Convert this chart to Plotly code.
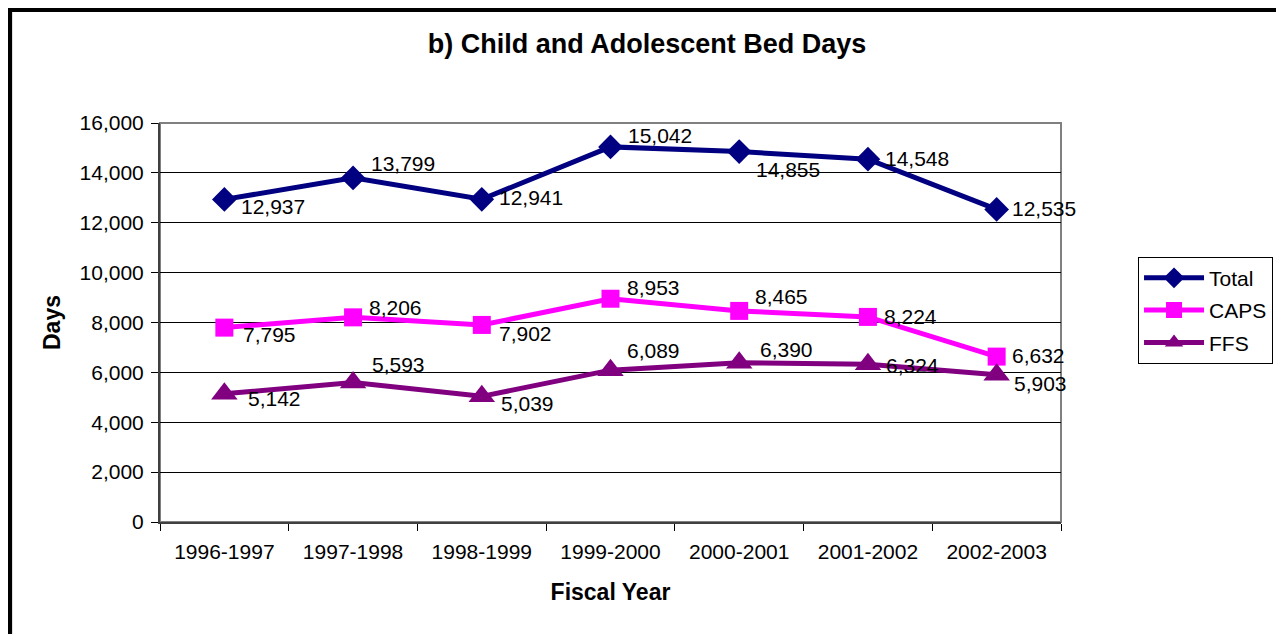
import plotly.graph_objects as go

# データ
years = ["1996-1997", "1997-1998", "1998-1999", "1999-2000",
         "2000-2001", "2001-2002", "2002-2003"]
total = [12937, 13799, 12941, 15042, 14855, 14548, 12535]
caps = [7795, 8206, 7902, 8953, 8465, 8224, 6632]
ffs = [5142, 5593, 5039, 6089, 6390, 6324, 5903]

# ラベル位置の調整 (px)
total_dx = [15, 16, 15, 15, 15, 15, 13]
total_dy = [-7, 14, 2, 11, -18, 1, 1]
caps_dx = [17, 14, 15, 14, 14, 14, 13]
caps_dy = [-7, 10, -9, 11, 14, 0, 1]
ffs_dx = [22, 17, 17, 14, 19, 16, 15]
ffs_dy = [-5, 18, -7, 20, 13, -1, -9]

FONT = "Arial, Liberation Sans, sans-serif"

fig = go.Figure()

series = [
    ("Total", total, "#000080", "diamond", 19, total_dx, total_dy),
    ("CAPS", caps, "#FF00FF", "square", 18, caps_dx, caps_dy),
    ("FFS", ffs, "#800080", "triangle-up", 23, ffs_dx, ffs_dy),
]

for name, vals, color, sym, size, dx, dy in series:
    fig.add_trace(go.Scatter(
        x=years, y=vals, name=name, mode="lines+markers", legendgroup=name,
        line=dict(color=color, width=5),
        marker=dict(symbol=sym, size=size, color=color),
    ))
    for yr, v, sx, sy in zip(years, vals, dx, dy):
        fig.add_annotation(
            x=yr, y=v, text=f"{v:,}", showarrow=False,
            xanchor="left", yanchor="middle", xshift=sx, yshift=sy,
            font=dict(family=FONT, size=21, color="black"),
        )

# 外枠とプロット枠
fig.add_shape(type="rect", xref="paper", yref="paper", x0=0, x1=1, y0=0, y1=1,
              line=dict(color="#808080", width=2), layer="below")
fig.add_shape(type="rect", xref="paper", yref="paper",
              x0=-0.1669, x1=1.2434, y0=-0.4, y1=1.2845,
              line=dict(color="black", width=5))

fig.update_layout(
    width=1276, height=626,
    margin=dict(l=152, r=222, t=115, b=112),
    paper_bgcolor="white", plot_bgcolor="white",
    font=dict(family=FONT, size=21, color="black"),
    title=dict(text="<b>b) Child and Adolescent Bed Days</b>",
               x=0.5008, xanchor="center", y=0.944, yanchor="middle",
               font=dict(family=FONT, size=27, color="black")),
    showlegend=True,
    legend=dict(x=1.0843, xanchor="left", y=0.665, yanchor="top",
                bordercolor="black", borderwidth=1, bgcolor="white",
                font=dict(family=FONT, size=21, color="black"),
                tracegroupgap=2, itemwidth=60),
)

fig.update_xaxes(
    type="category", range=[-0.5, 6.5], showgrid=False, tickson="boundaries",
    ticks="outside", ticklen=7, tickcolor="black",
    showline=True, linecolor="#404040", linewidth=2,
    tickfont=dict(family=FONT, size=21), ticklabelstandoff=10,
    title=dict(text="<b>Fiscal Year</b>", standoff=22,
               font=dict(family=FONT, size=23)),
)
fig.update_yaxes(
    range=[0, 16000], dtick=2000, tickformat=",",
    showgrid=True, gridcolor="black", gridwidth=1,
    ticks="outside", ticklen=7, tickcolor="black",
    showline=True, linecolor="#404040", linewidth=2,
    zeroline=False,
    tickfont=dict(family=FONT, size=21), ticklabelstandoff=3,
    title=dict(text="<b>Days</b>", standoff=13,
               font=dict(family=FONT, size=23)),
)

fig.write_html("out.html")
